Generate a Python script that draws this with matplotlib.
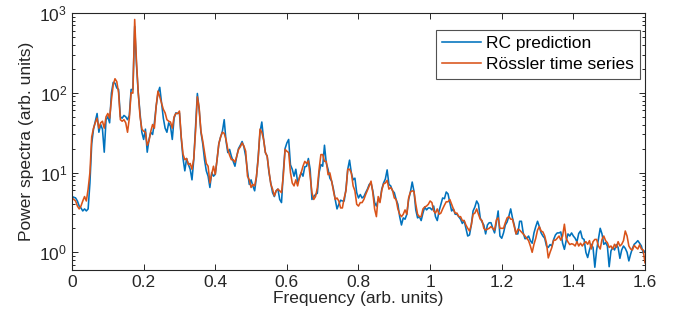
import numpy as np
import matplotlib
matplotlib.use("Agg")
import matplotlib.pyplot as plt
from matplotlib.ticker import LogLocator, NullFormatter

plt.rcParams["font.family"] = ["Liberation Sans", "DejaVu Sans"]
plt.rcParams["mathtext.fontset"] = "custom"
plt.rcParams["mathtext.rm"] = "Liberation Sans"

# frequency bins are spaced 0.005 apart, starting at 0
freq_step = 0.005

# RC prediction power spectrum
rc_power = [
    5.0, 4.9, 4.8, 4.4, 3.8, 3.6, 3.3, 3.5, 3.3, 3.5,
    7.4, 23, 35, 44, 55, 32, 40, 35, 18, 46,
    50, 42, 99, 135, 132, 115, 110, 50, 48, 52,
    50, 46, 52, 110, 110, 680, 225, 99, 55, 32,
    26, 35, 18, 26, 32, 30, 42, 68, 99, 117,
    74, 48, 36, 32, 42, 38, 26, 48, 56, 55,
    56, 27, 15, 10.5, 15, 12.6, 11, 8.1, 14.5, 38,
    98, 62, 32, 23, 14.5, 10.5, 9, 6.5, 10, 9,
    9.5, 14.5, 23, 28, 33, 46, 25, 17.8, 19.5, 16,
    13.8, 12, 16, 20, 22, 24.5, 21, 16, 10.5, 7.1,
    8.1, 6.8, 5.9, 8.7, 16, 32, 43, 26, 17.8, 16,
    10, 7.4, 5.6, 5.0, 5.9, 6.2, 4.6, 4.2, 10, 20,
    23.5, 26, 12.5, 11, 9, 11, 7.6, 8.5, 10, 9,
    11.8, 12, 15, 11, 4.6, 5, 5.3, 5.5, 10, 12.6,
    12, 22, 13.2, 11, 8.5, 7.8, 6.2, 4.6, 3.5, 4.0,
    4.5, 4.4, 4.4, 6.2, 11, 14.3, 9.9, 8.1, 8.5, 5.6,
    4.8, 5.3, 4.8, 5.0, 5.6, 6.2, 7.1, 7.4, 5.9, 4.2,
    3.8, 4.6, 4.4, 6.2, 7.4, 8.3, 10.8, 7.1, 6.8, 5.9,
    5.6, 4.6, 4.0, 2.8, 2.2, 2.7, 2.6, 3.0, 4.6, 5.7,
    7.6, 5.8, 3.4, 2.7, 2.8, 2.5, 3.1, 3.7, 3.4, 3.6,
    3.6, 3.4, 3.8, 2.8, 2.5, 3.3, 4.0, 4.8, 4.7, 5.7,
    5.4, 4.2, 3.3, 3.5, 3.0, 3.0, 2.8, 2.6, 2.3, 2.5,
    2.0, 1.6, 1.65, 2.2, 3.3, 3.7, 4.4, 4.0, 2.7, 2.4,
    2.2, 1.7, 2.2, 2.35, 2.35, 2.0, 1.75, 2.35, 3.3, 1.6,
    1.5, 1.75, 2.2, 2.4, 2.85, 3.5, 2.7, 2.2, 1.7, 1.7,
    2.45, 2.45, 1.75, 1.48, 1.5, 1.6, 1.4, 1.3, 1.75, 2.1,
    2.45, 2.1, 1.75, 1.6, 1.5, 1.2, 1.15, 1.25, 1.2, 1.45,
    1.65, 1.75, 1.75, 1.8, 1.3, 1.09, 1.4, 1.7, 1.6, 1.75,
    1.6, 1.5, 1.35, 1.72, 1.85, 1.5, 1.45, 1.0, 0.86, 1.07,
    1.26, 1.15, 0.65, 1.07, 1.45, 2.0, 1.7, 1.26, 1.32, 1.2,
    0.66, 1.04, 1.15, 1.07, 1.25, 1.15, 0.84, 1.07, 1.2, 1.12,
    1.0, 0.78, 0.95, 1.12, 1.26, 1.32, 1.4, 1.3, 1.2, 0.98,
    1.04,
]

# Rossler time series power spectrum
rossler_power = [
    4.8, 4.6, 4.4, 3.8, 3.5, 3.8, 4.4, 5.0, 4.4, 6.2,
    10, 28, 36, 42, 48, 36, 42, 44, 36, 50,
    55, 48, 81, 126, 150, 138, 100, 46, 44, 46,
    42, 32, 48, 100, 99, 830, 245, 100, 50, 35,
    33, 32, 22, 25, 33, 40, 36, 68, 105, 89,
    74, 62, 56, 46, 44, 43, 36, 50, 55, 55,
    59, 28, 17, 14.5, 15, 12.6, 13, 11, 15, 33,
    89, 65, 33, 25, 18, 13, 12, 7.4, 9.5, 12,
    9.5, 14.5, 23, 28, 32, 31, 26, 19.5, 16.5, 14.5,
    14.5, 13.5, 16, 19.5, 21, 23.5, 21.5, 18.5, 9, 8.1,
    6.5, 7.1, 6.8, 8.9, 15, 35, 32, 26, 17.8, 16,
    10.5, 7.2, 6.2, 5.1, 5.9, 6.2, 5.9, 5.6, 9, 19.5,
    18.5, 17.8, 10, 7.4, 6.8, 8.1, 6.8, 8.7, 10, 12,
    13.8, 13, 14, 9, 5.6, 4.6, 5, 6.4, 11, 16.8,
    16.8, 13.8, 13.8, 9.4, 9.9, 7.8, 5.9, 4.6, 4.8, 4.4,
    3.6, 3.6, 4.8, 5.9, 11, 11, 9.9, 6.8, 5.9, 4.0,
    3.8, 4.2, 4.2, 4.6, 5.3, 6.0, 6.8, 7.8, 5.6, 3.5,
    2.8, 5.0, 4.2, 6.0, 7.2, 7.4, 8.0, 6.2, 6.5, 6.0,
    4.8, 4.6, 3.5, 3.0, 2.8, 3.0, 3.4, 3.0, 4.8, 5.7,
    5.9, 5.8, 4.0, 3.0, 2.8, 2.8, 3.5, 3.7, 3.8, 4.0,
    4.4, 4.2, 3.3, 3.1, 3.5, 3.0, 3.1, 3.5, 3.9, 4.3,
    4.3, 4.6, 4.0, 3.5, 3.1, 3.1, 2.8, 2.8, 2.5, 2.5,
    2.2, 2.0, 1.85, 2.2, 3.0, 3.1, 3.5, 3.0, 2.6, 2.5,
    2.0, 1.9, 1.95, 2.0, 2.1, 2.0, 1.9, 2.55, 2.7, 2.0,
    2.0, 2.0, 2.35, 2.7, 2.8, 2.6, 2.6, 2.1, 1.7, 1.95,
    1.9, 1.8, 1.7, 1.6, 1.5, 1.4, 1.2, 1.0, 1.26, 1.5,
    1.9, 2.1, 1.85, 1.8, 1.6, 1.3, 0.85, 1.0, 1.15, 1.42,
    1.42, 1.5, 1.6, 1.42, 1.6, 2.25, 1.5, 1.35, 1.25, 1.28,
    1.26, 1.2, 1.36, 1.2, 1.3, 1.2, 1.3, 1.36, 1.26, 1.4,
    1.1, 1.36, 1.45, 1.45, 1.2, 1.1, 1.45, 1.6, 1.4, 1.32,
    1.15, 1.2, 1.1, 1.26, 1.15, 1.36, 1.2, 1.26, 1.4, 1.85,
    1.6, 1.2, 1.1, 1.07, 1.22, 1.15, 1.1, 1.24, 1.1, 1.07,
    0.74,
]

xtick_values = [0, 0.2, 0.4, 0.6, 0.8, 1.0, 1.2, 1.4, 1.6]
xtick_labels = ["0", "0.2", "0.4", "0.6", "0.8", "1", "1.2", "1.4", "1.6"]
series_labels = ["RC prediction", "Rössler time series"]

freq = np.arange(len(rc_power)) * freq_step

blue = "#0072BD"
orange = "#D95319"
axis_col = "#262626"
fs = 12.5

fig = plt.figure(figsize=(6.82, 3.27), dpi=100)
ax = fig.add_axes([0.1056, 0.1743, 0.8401, 0.7859])

ax.plot(freq, rc_power, color=blue, lw=1.15, label=series_labels[0])
ax.plot(freq, rossler_power, color=orange, lw=1.15, label=series_labels[1])

ax.set_yscale("log")
ax.set_xlim(0, 1.6)
ax.set_ylim(0.6, 1000)
ax.set_xticks(xtick_values)
ax.set_xticklabels(xtick_labels)
ax.yaxis.set_major_locator(LogLocator(base=10, numticks=10))
ax.yaxis.set_minor_locator(LogLocator(base=10, subs=np.arange(2, 10), numticks=20))
ax.yaxis.set_minor_formatter(NullFormatter())

ax.tick_params(which="both", direction="in", top=True, right=True,
               colors=axis_col, labelsize=fs, width=0.7)
ax.tick_params(which="major", length=4.5)
ax.tick_params(which="minor", length=2.5)
for s in ax.spines.values():
    s.set_color(axis_col)
    s.set_linewidth(0.8)

ax.set_xlabel("Frequency (arb. units)", fontsize=fs, color=axis_col, labelpad=1)
ax.set_ylabel("Power spectra (arb. units)", fontsize=fs, color=axis_col, labelpad=4)

leg = ax.legend(loc="upper right", bbox_to_anchor=(0.991, 0.934), fontsize=fs,
                frameon=True, fancybox=False, edgecolor=axis_col,
                handlelength=2.2, handletextpad=0.3, borderpad=0.35,
                labelspacing=0.35, borderaxespad=0)
leg.get_frame().set_linewidth(0.8)

fig.savefig("out.png", dpi=100)
